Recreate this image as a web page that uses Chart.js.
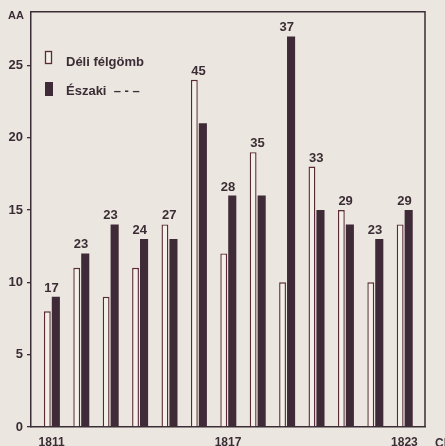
<!DOCTYPE html>
<html>
<head>
<meta charset="utf-8">
<script src="https://cdn.jsdelivr.net/npm/chart.js@4/dist/chart.umd.min.js"></script>
<style>
  html, body { margin: 0; padding: 0; background: #ebe6df; }
  canvas { display: block; }
</style>
</head>
<body>
<canvas id="sunspots" width="445" height="446"></canvas>
<script>
// years on the x axis
const years = [1811, 1812, 1813, 1814, 1815, 1816, 1817, 1818, 1819, 1820, 1821, 1822, 1823];
// southern hemisphere (outlined bars)
const deli = [8, 11, 9, 11, 14, 24, 12, 19, 10, 18, 15, 10, 14];
// northern hemisphere (filled bars)
const eszaki = [9, 12, 14, 13, 13, 21, 16, 16, 27, 15, 14, 13, 15];
// numbers printed above each pair
const totals = [17, 23, 23, 24, 27, 45, 28, 35, 37, 33, 29, 23, 29];
const xTicks = [1811, 1817, 1823];
const yTicks = [0, 5, 10, 15, 20, 25];

const ink = '#3b2d35';
const fontName = '"Liberation Sans", Arial, sans-serif';

const paperLabels = {
    id: 'paperLabels',
    afterDatasetsDraw(chart) {
        const { ctx, chartArea: a } = chart;
        ctx.save();

        // top and right edge of the frame
        ctx.strokeStyle = ink;
        ctx.lineWidth = 1.5;
        ctx.beginPath();
        ctx.moveTo(a.left, a.top);
        ctx.lineTo(a.right, a.top);
        ctx.lineTo(a.right, a.bottom);
        ctx.stroke();

        // totals over each pair
        const south = chart.getDatasetMeta(0).data;
        const north = chart.getDatasetMeta(1).data;
        ctx.fillStyle = ink;
        ctx.font = 'bold 13px ' + fontName;
        ctx.textAlign = 'center';
        ctx.textBaseline = 'alphabetic';
        totals.forEach((t, i) => {
            const x = (south[i].x + north[i].x) / 2;
            const y = Math.min(south[i].y, north[i].y) - 5;
            ctx.fillText(String(t), x, y);
        });

        // unit and axis end labels
        ctx.font = 'bold 11px ' + fontName;
        ctx.textAlign = 'right';
        ctx.fillText('AA', 24, 19);
        ctx.font = 'bold 12px ' + fontName;
        ctx.textAlign = 'left';
        ctx.fillText('CR', a.right + 10, 447);

        // legend inside the plot
        const ds = chart.data.datasets;
        ctx.font = 'bold 13px ' + fontName;
        ctx.fillStyle = ds[0].backgroundColor;
        ctx.fillRect(45.5, 51.5, 6, 12);
        ctx.strokeStyle = ds[0].borderColor;
        ctx.lineWidth = 1.3;
        ctx.strokeRect(45.5, 51.5, 6, 12);
        ctx.fillStyle = ds[1].backgroundColor;
        ctx.fillRect(45, 82, 8, 14);
        ctx.fillStyle = ink;
        ctx.fillText(ds[0].label, 66, 66);
        ctx.fillText(ds[1].label + '  \u2013 - \u2013', 66, 95);

        ctx.restore();
    }
};

new Chart(document.getElementById('sunspots').getContext('2d'), {
    type: 'bar',
    data: {
        labels: years,
        datasets: [{
            label: 'Déli félgömb',
            data: deli,
            backgroundColor: '#f3f0ea',
            borderColor: '#5a2a36',
            borderWidth: { top: 1.4, left: 1.4, right: 1.4, bottom: 0 },
            categoryPercentage: 0.58,
            barPercentage: 0.8
        }, {
            label: 'Északi',
            data: eszaki,
            backgroundColor: '#3f2a37',
            borderWidth: 0,
            categoryPercentage: 0.58,
            barPercentage: 0.95
        }]
    },
    options: {
        responsive: false,
        animation: false,
        layout: { padding: { top: 10, right: 20, left: 0, bottom: 0 } },
        plugins: {
            legend: { display: false },
            tooltip: { enabled: false }
        },
        scales: {
            x: {
                type: 'linear',
                offset: false,
                min: 1810.3,
                max: 1823.7,
                afterBuildTicks: (s) => { s.ticks = xTicks.map(v => ({ value: v })); },
                afterFit: (s) => { s.height = 19; },
                grid: { display: false, drawTicks: false },
                border: { color: ink, width: 1.5 },
                ticks: {
                    autoSkip: false,
                    maxRotation: 0,
                    padding: 8,
                    color: ink,
                    font: { family: fontName, size: 12, weight: 'bold' },
                    callback: (v) => String(v)
                }
            },
            y: {
                min: 0,
                max: 28.7,
                afterBuildTicks: (s) => { s.ticks = yTicks.map(v => ({ value: v })); },
                afterFit: (s) => { s.width = 31; },
                grid: { drawOnChartArea: false, drawTicks: true, tickLength: 4, color: ink, lineWidth: 1.3 },
                border: { color: ink, width: 1.5 },
                ticks: {
                    padding: 4,
                    color: ink,
                    font: { family: fontName, size: 13, weight: 'bold' }
                }
            }
        }
    },
    plugins: [paperLabels]
});
</script>
</body>
</html>
